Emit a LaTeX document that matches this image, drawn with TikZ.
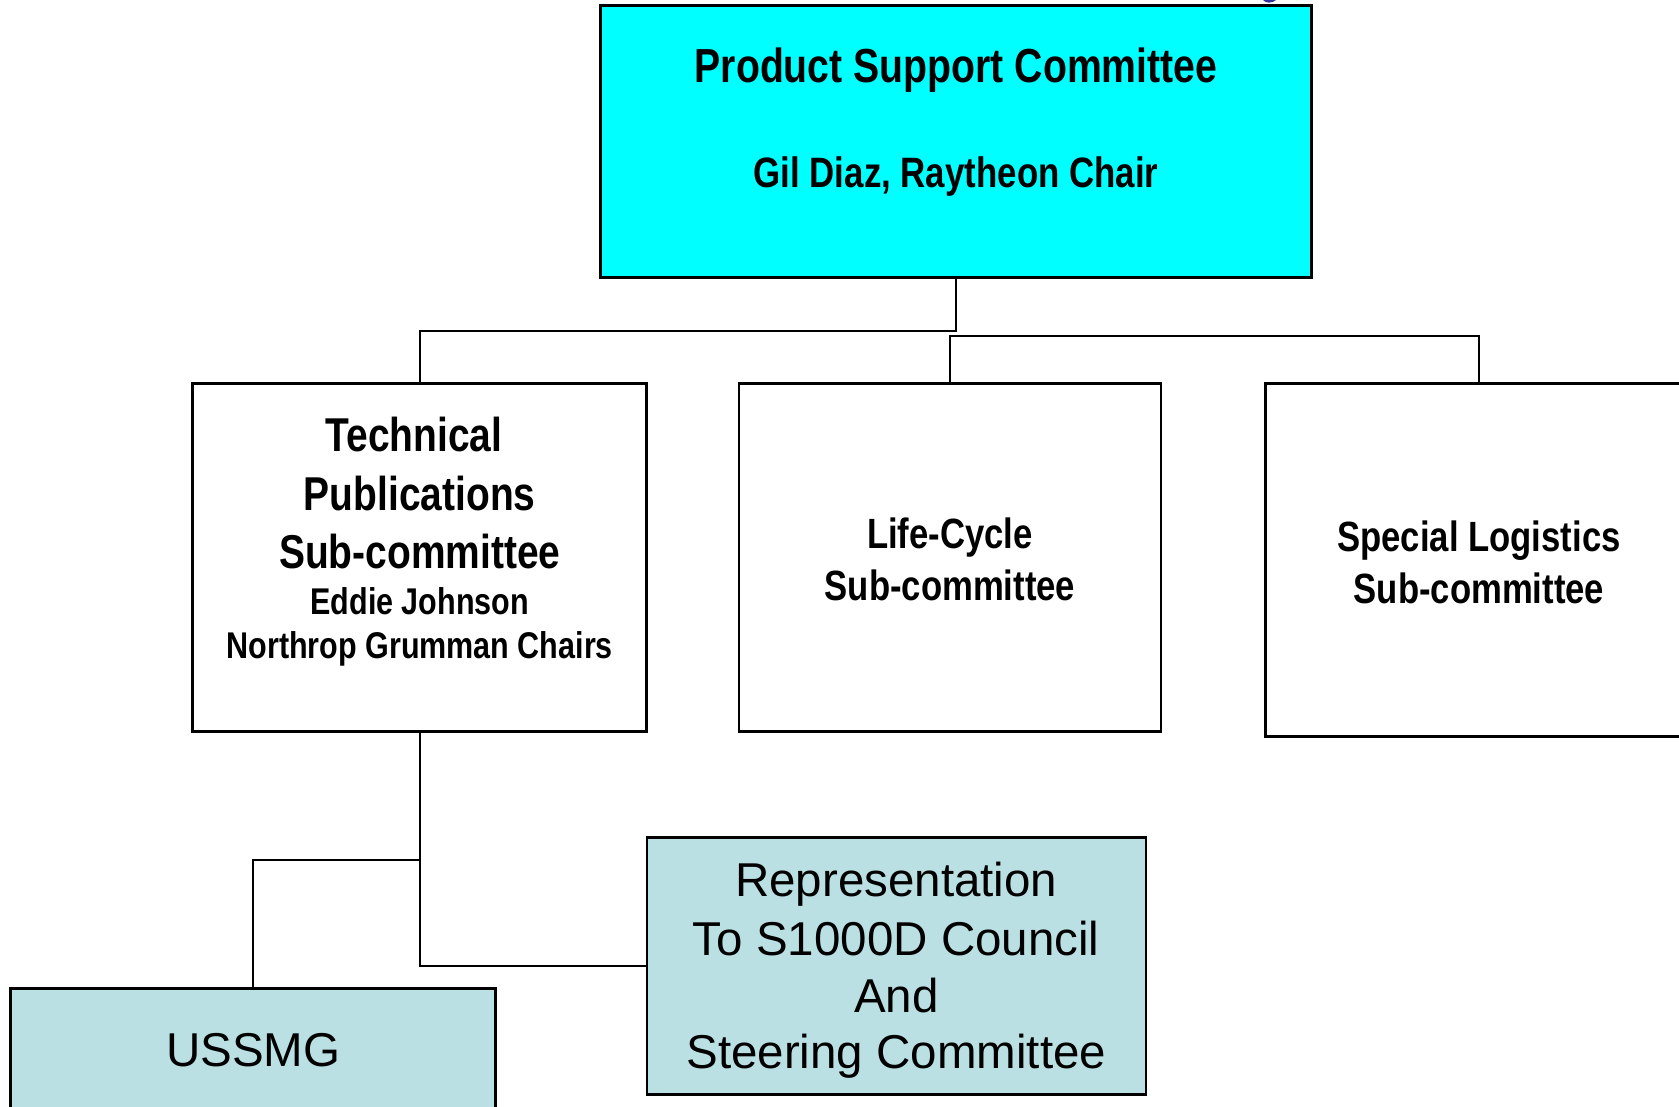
\documentclass[tikz,border=0pt]{standalone}
\usepackage{fontspec}
\setmainfont{Liberation Sans}
\newfontfamily\nb{Liberation Sans}[FakeStretch=0.82]
\definecolor{topcyan}{HTML}{00FFFF}
\definecolor{paleblue}{HTML}{BBE0E3}
\definecolor{titleblue}{HTML}{333399}
\tikzset{
  box/.style={draw=black, line width=2.5pt, anchor=north west, inner sep=0pt, outer sep=0pt},
  conn/.style={draw=black, line width=2pt},
  txt/.style={anchor=base, inner sep=0pt, outer sep=0pt, text=black},
}
\newcommand{\bfs}[1]{\nb\bfseries\fontsize{#1}{#1}\selectfont}
\newcommand{\rgs}[1]{\normalfont\fontsize{#1}{#1}\selectfont}
\begin{document}
\begin{tikzpicture}[x=1pt,y=-1pt]
\useasboundingbox (0,0) rectangle (1679,1106);
\clip (0,0) rectangle (1679,1106);
% fragment of a title letter cut by the top edge
\fill[titleblue] (1263,0) .. controls (1266,3.5) and (1272,3.5) .. (1276,0) -- cycle;

% boxes
\node[box, fill=topcyan, minimum width=711pt, minimum height=272pt] (top) at (600.7,5.4) {};
\node[box, fill=white, minimum width=454pt, minimum height=348pt] (tech) at (192.7,383.3) {};
\node[box, fill=white, minimum width=422pt, minimum height=348pt] (life) at (738.9,383.3) {};
\node[box, fill=white, minimum width=426.6pt, minimum height=353.4pt] (spec) at (1265.7,383.3) {};
\node[box, fill=paleblue, minimum width=499pt, minimum height=257pt] (rep) at (646.8,837.4) {};
\node[box, fill=paleblue, minimum width=485pt, minimum height=200pt] (ussmg) at (10.7,988.4) {};

% connectors
\draw[conn] (top.south) -- (top.south |- 0,331) -| (tech.north);
\draw[conn] (life.north) -- (life.north |- 0,336) -| (spec.north);
\draw[conn] (tech.south) |- (rep.west);
\draw[conn] (tech.south |- 0,860) -| (ussmg.north);

% texts
\node[txt, font=\bfs{47.8}] (t1) at (956,82.7) {Product Support Committee};
\node[txt, font=\bfs{42.5}] (t2) at (956,187.3) {Gil Diaz, Raytheon Chair};

\node[txt, font=\bfs{47.5}] (a1) at (414,451.7) {Technical};
\node[txt, font=\bfs{47.5}] (a2) at (419.7,510) {Publications};
\node[txt, font=\bfs{47.5}] (a3) at (419.7,568.3) {Sub-committee};
\node[txt, font=\bfs{37.2}] (a4) at (419.7,614.3) {Eddie Johnson};
\node[txt, font=\bfs{37.2}] (a5) at (419.7,658) {Northrop Grumman Chairs};

\node[txt, font=\bfs{42.3}] (b1) at (950,548) {Life-Cycle};
\node[txt, font=\bfs{42.3}] (b2) at (950,600.5) {Sub-committee};

\node[txt, font=\bfs{42.3}] (c1) at (1479,551) {Special Logistics};
\node[txt, font=\bfs{42.3}] (c2) at (1479,603) {Sub-committee};

\node[txt, font=\rgs{47.5}] (r1) at (896.3,896) {Representation};
\node[txt, font=\rgs{47.5}] (r2) at (896.3,955) {To S1000D Council};
\node[txt, font=\rgs{47.5}] (r3) at (896.3,1012.7) {And};
\node[txt, font=\rgs{47.5}] (r4) at (896.3,1068.3) {Steering Committee};

\node[txt, font=\rgs{47.5}] (u1) at (253.2,1066.7) {USSMG};
\end{tikzpicture}
\end{document}
